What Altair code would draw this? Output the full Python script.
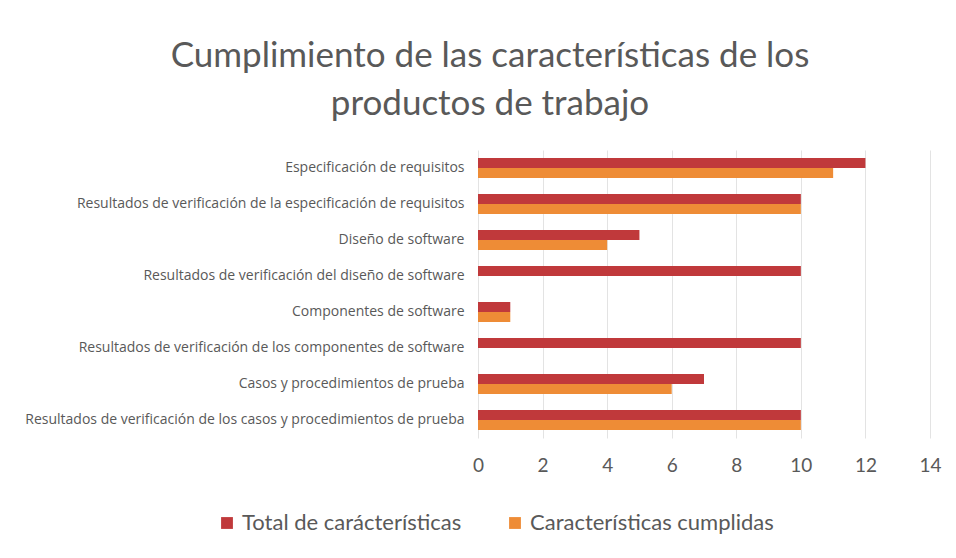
import altair as alt
import pandas as pd

categories = [
    "Especificación de requisitos",
    "Resultados de verificación de la especificación de requisitos",
    "Diseño de software",
    "Resultados de verificación del diseño de software",
    "Componentes de software",
    "Resultados de verificación de los componentes de software",
    "Casos y procedimientos de prueba",
    "Resultados de verificación de los casos y procedimientos de prueba",
]
total = [12, 10, 5, 10, 1, 10, 7, 10]
cumplidas = [11, 10, 4, 0, 1, 0, 6, 10]
series = ["Total de carácterísticas", "Características cumplidas"]
colors = ["#C0393B", "#EE8C36"]

rows = []
for c, t, k in zip(categories, total, cumplidas):
    rows.append({"cat": c, "serie": series[0], "valor": t})
    rows.append({"cat": c, "serie": series[1], "valor": k})
df = pd.DataFrame(rows)

chart = (
    alt.Chart(df, view=alt.ViewBackground(stroke="transparent", strokeWidth=0))
    .mark_bar()
    .encode(
        y=alt.Y(
            "cat:N",
            sort=categories,
            title=None,
            scale=alt.Scale(paddingInner=0.44, paddingOuter=0.22),
            axis=alt.Axis(
                labelFont="Open Sans",
                labelFontSize=14,
                labelColor="#595959",
                ticks=False,
                domain=False,
                grid=False,
                labelPadding=14,
                labelLimit=500,
            ),
        ),
        yOffset=alt.YOffset("serie:N", sort=series, scale=alt.Scale(paddingInner=0)),
        x=alt.X(
            "valor:Q",
            title=None,
            scale=alt.Scale(domain=[0, 14], nice=False),
            axis=alt.Axis(
                values=[0, 2, 4, 6, 8, 10, 12, 14],
                labelFont="Lato",
                labelFontSize=19,
                labelColor="#595959",
                ticks=False,
                domain=False,
                labelPadding=18,
                grid=True,
                gridColor="#E3E3E3",
                labelFlush=False,
            ),
        ),
        color=alt.Color(
            "serie:N",
            sort=series,
            scale=alt.Scale(domain=series, range=colors),
            legend=alt.Legend(
                title=None,
                orient="none",
                legendX=-262,
                legendY=362,
                direction="horizontal",
                symbolType="square",
                symbolSize=140,
                labelFont="Lato",
                labelFontSize=22,
                labelColor="#595959",
                columnPadding=42,
                labelLimit=400,
            ),
        ),
    )
    .properties(
        width=452,
        height=288,
        padding={"left": 470, "top": 142, "right": 18, "bottom": 110},
        autosize=alt.AutoSizeParams(type="none"),
        title=alt.TitleParams(
            text=["Cumplimiento de las características de los", "productos de trabajo"],
            font="Lato",
            fontSize=35,
            fontWeight="normal",
            color="#595959",
            anchor="middle",
            dx=-214,
            offset=28,
            lineHeight=48,
        ),
    )
    .configure_view(strokeWidth=0, stroke="transparent")
    .configure_axisY(grid=False)
    .configure(background="white")
)

chart.save("out.html", embed_options={"renderer": "svg", "actions": False})
